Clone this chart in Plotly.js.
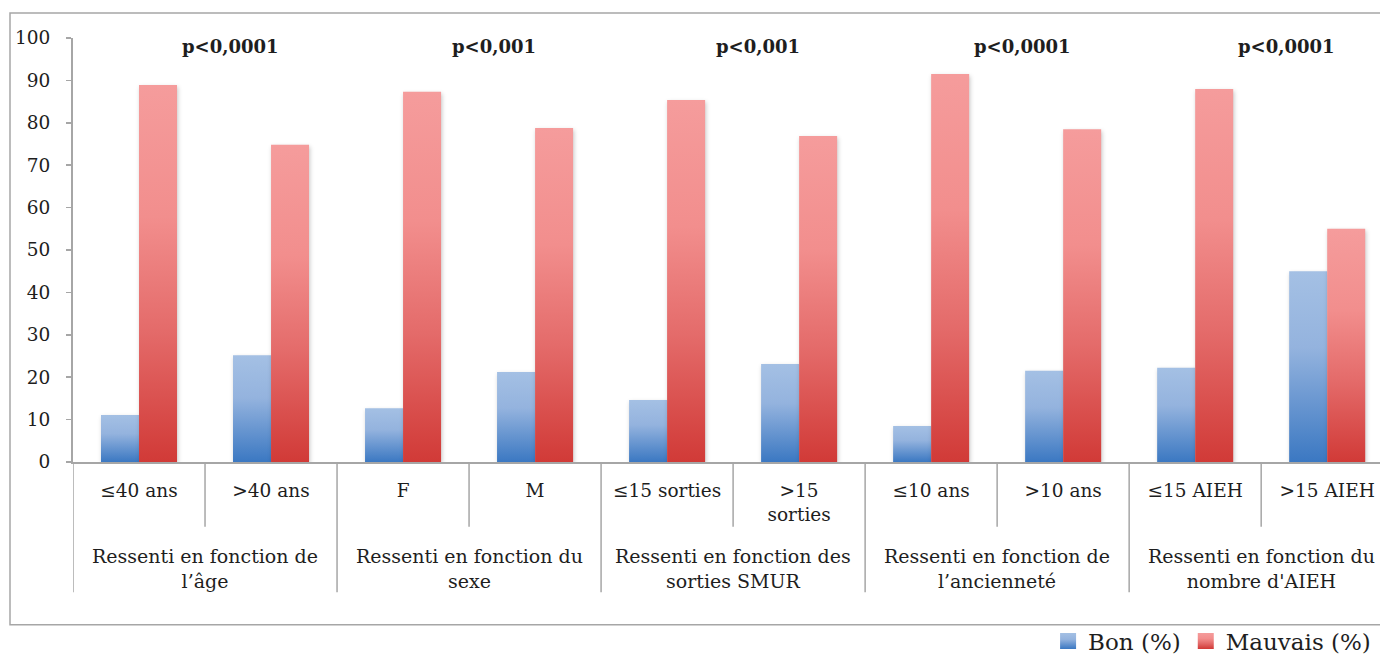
<!DOCTYPE html>
<html>
<head>
<meta charset="utf-8">
<script src="https://cdn.plot.ly/plotly-3.0.1.min.js"></script>
<style>
  html, body { margin: 0; padding: 0; background: #fff; }
  #chart { width: 1380px; height: 657px; }
</style>
</head>
<body>
<div id="chart"></div>
<script>
// ---- data ----
const subLabels = ['≤40 ans', '>40 ans', 'F', 'M', '≤15 sorties', '>15<br>sorties',
                   '≤10 ans', '>10 ans', '≤15 AIEH', '>15 AIEH'];
const groupLabels = ['Ressenti en fonction de<br>l’âge',
                     'Ressenti en fonction du<br>sexe',
                     'Ressenti en fonction des<br>sorties SMUR',
                     'Ressenti en fonction de<br>l’ancienneté',
                     'Ressenti en fonction du<br>nombre d\'AIEH'];
const pValues = ['p&lt;0,0001', 'p&lt;0,001', 'p&lt;0,001', 'p&lt;0,0001', 'p&lt;0,0001'];
const bon     = [11.1, 25.2, 12.7, 21.2, 14.6, 23.1, 8.5, 21.5, 22.2, 45.0];
const mauvais = [88.9, 74.8, 87.3, 78.8, 85.4, 76.9, 91.5, 78.5, 88.0, 55.0];
const seriesNames = ['Bon (%)', 'Mauvais (%)'];

// ---- style ----
const FONT = 'DejaVu Serif, Liberation Serif, serif';
const TXT = '#1e1e1e';
const AXIS = '#A6A6A6';

const traces = [
  { type: 'bar', name: seriesNames[0], x: subLabels, y: bon,
    marker: { color: '#7FA3D6' }, hoverinfo: 'y' },
  { type: 'bar', name: seriesNames[1], x: subLabels, y: mauvais,
    marker: { color: '#E87575' }, hoverinfo: 'y' }
];

const shapes = [];
// outer chart border
shapes.push({ type: 'rect', xref: 'paper', yref: 'paper',
  x0: -0.0482, x1: 1.02, y0: -0.384, y1: 1.059,
  line: { color: AXIS, width: 1.5 }, fillcolor: 'rgba(0,0,0,0)', layer: 'below' });
// category separators (sub level short, group level long)
for (let i = 0; i <= subLabels.length; i++) {
  const isGroup = (i % 2 === 0);
  shapes.push({ type: 'line', xref: 'x', yref: 'paper',
    x0: i - 0.5, x1: i - 0.5, y0: 0, y1: isGroup ? -0.307 : -0.153,
    line: { color: AXIS, width: 1.5 } });
}

const annotations = [];
groupLabels.forEach((g, k) => {
  annotations.push({ xref: 'x', yref: 'paper', x: 2 * k + 0.5, y: -0.19,
    xanchor: 'center', yanchor: 'top', showarrow: false, align: 'center',
    text: g, font: { family: FONT, size: 19, color: TXT } });
  annotations.push({ xref: 'x', yref: 'paper', x: 2 * k + 0.69, y: 0.98,
    xanchor: 'center', yanchor: 'middle', showarrow: false,
    text: '<b>' + pValues[k] + '</b>', font: { family: FONT, size: 18, color: TXT } });
});

const layout = {
  width: 1380, height: 657,
  margin: { l: 73, r: 0, t: 38, b: 195, autoexpand: false },
  paper_bgcolor: '#fff', plot_bgcolor: '#fff',
  font: { family: FONT, color: TXT, size: 18 },
  barmode: 'group', bargap: 0.424, bargroupgap: 0,
  showlegend: true,
  legend: { orientation: 'h', x: 0.997, xanchor: 'right', y: -0.422, yanchor: 'middle',
            font: { family: FONT, size: 23, color: TXT }, itemwidth: 30,
            traceorder: 'normal', bgcolor: 'rgba(0,0,0,0)' },
  xaxis: { type: 'category', range: [-0.5, 9.4], showline: true, linecolor: AXIS,
           linewidth: 2, ticks: '', showgrid: false, zeroline: false, automargin: false,
           tickfont: { family: FONT, size: 18.5, color: TXT }, ticklabelstandoff: 11,
           fixedrange: true },
  yaxis: { range: [0, 100], dtick: 10, tick0: 0, ticks: 'outside', ticklen: 5,
           tickcolor: AXIS, tickwidth: 1.5, showline: true, linecolor: AXIS, linewidth: 2,
           showgrid: false, zeroline: false, ticklabelstandoff: 12, automargin: false,
           tickfont: { family: FONT, size: 18.5, color: TXT }, fixedrange: true },
  shapes: shapes,
  annotations: annotations
};

Plotly.newPlot('chart', traces, layout, { staticPlot: true }).then(gd => {
  // Excel-style vertical gradients on the library-drawn bars
  const svg = gd.querySelector('.main-svg');
  const ns = 'http://www.w3.org/2000/svg';
  let defs = svg.querySelector('defs');
  if (!defs) { defs = document.createElementNS(ns, 'defs'); svg.insertBefore(defs, svg.firstChild); }
  function grad(id, stops) {
    const lg = document.createElementNS(ns, 'linearGradient');
    lg.setAttribute('id', id);
    lg.setAttribute('x1', '0'); lg.setAttribute('y1', '0');
    lg.setAttribute('x2', '0'); lg.setAttribute('y2', '1');
    stops.forEach(s => {
      const st = document.createElementNS(ns, 'stop');
      st.setAttribute('offset', s[0]); st.setAttribute('stop-color', s[1]);
      lg.appendChild(st);
    });
    defs.appendChild(lg);
  }
  grad('gBlue', [[0, '#A4C0E4'], [0.4, '#94B3DE'], [1, '#3B78C2']]);
  grad('gRed', [[0, '#F59C9C'], [0.35, '#F28E8D'], [0.65, '#E46B6A'], [1, '#D13A37']]);
  const ids = ['gBlue', 'gRed'];
  gd.querySelectorAll('.barlayer .trace').forEach((t, i) => {
    t.querySelectorAll('path').forEach(p => {
      p.style.fill = 'url(#' + ids[i] + ')';
      p.style.filter = 'drop-shadow(1px 2px 2px rgba(0,0,0,0.22))';
    });
  });
  gd.querySelectorAll('.legend .traces').forEach((t, i) => {
    t.querySelectorAll('.legendpoints path').forEach(p => {
      p.style.fill = 'url(#' + ids[i] + ')';
      p.setAttribute('d', 'M8,8H-8V-8H8Z');
      p.style.strokeWidth = '0';
    });
  });
});
</script>
</body>
</html>
